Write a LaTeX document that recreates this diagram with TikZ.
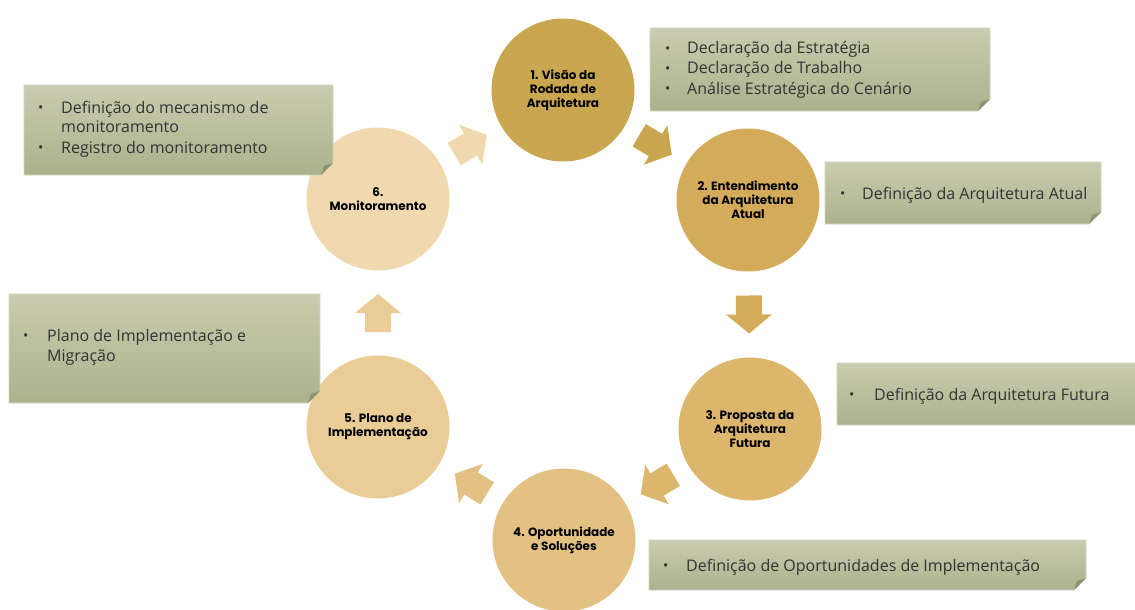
\documentclass[tikz,border=0pt]{standalone}
\usepackage{fontspec}
\setmainfont{Open Sans}
\newfontfamily\circfont{Poppins}
\usetikzlibrary{calc}

% circle fills, darkest (step 1) to lightest (step 6)
\definecolor{cA}{HTML}{C9A650}
\definecolor{cB}{HTML}{D4AB5B}
\definecolor{cC}{HTML}{DCB66C}
\definecolor{cD}{HTML}{E3C185}
\definecolor{cE}{HTML}{EACC96}
\definecolor{cF}{HTML}{F0D9AF}
% sticky notes
\definecolor{noteTop}{HTML}{C9CCAE}
\definecolor{noteBot}{HTML}{ABB18D}
\definecolor{noteEdge}{HTML}{D3D6BF}
\definecolor{noteFold}{HTML}{8E9371}
\definecolor{noteInk}{HTML}{333333}

\newcommand\bul{{\fontsize{14}{14}\selectfont\raisebox{0.5pt}{•}}}

% sticky note with a folded bottom-right corner: #1 top-left, #2 bottom-right
\newcommand\stickynote[2]{%
  \coordinate (snA) at (#1);
  \coordinate (snB) at (#2);
  \path[notebody] (snA) -- (snA -| snB) -- ($(snB)+(0,-12)$) -- ($(snB)+(-12,0)$)
    -- (snA |- snB) -- cycle;
  \fill[noteFold] ($(snB)+(0,-12)$) -- ($(snB)+(-12,0)$) -- ($(snB)+(-9,-9)$) -- cycle;
}

\begin{document}
\begin{tikzpicture}[x=1pt,y=-1pt,
  stage/.style={circle, minimum size=143pt, inner sep=0pt, align=center,
    font={\circfont\bfseries\fontsize{12}{14.2}\selectfont}, text=black},
  notebody/.style={top color=noteTop, bottom color=noteBot, draw=noteEdge, line width=0.8pt},
  notetext/.style={anchor=base west, inner sep=0pt, text=noteInk,
    font={\fontsize{16}{20}\selectfont}},
  blockarrow/.pic={\fill[#1] (-19,-13) -- (0,-13) -- (0,-23) -- (19,0) -- (0,23)
    -- (0,13) -- (-19,13) -- cycle;}]

\useasboundingbox (0,0) rectangle (1135,610);

% the six stages of the cycle
\node[stage, fill=cA] (s1) at (563,90)  {1. Visão da\\Rodada de\\Arquitetura};
\node[stage, fill=cB] (s2) at (748,200) {2. Entendimento\\da Arquitetura\\Atual};
\node[stage, fill=cC] (s3) at (750,429) {3. Proposta da\\Arquitetura\\Futura};
\node[stage, fill=cD] (s4) at (564,540) {4. Oportunidade\\e Soluções};
\node[stage, fill=cE] (s5) at (378,427) {5. Plano de\\Implementação};
\node[stage, fill=cF] (s6) at (378,199) {6.\\Monitoramento};

% block arrows half-way between consecutive stages
\foreach \a/\b/\col in {s1/s2/cA, s2/s3/cB, s3/s4/cC, s4/s5/cD, s5/s6/cE, s6/s1/cF}{
  \path let \p1=($(\b)-(\a)$), \n1={atan2(\y1,\x1)} in
    ($(\a)!0.5!(\b)$) pic[rotate=\n1] {blockarrow=\col};
}

% notes beside the stages
\stickynote{650,28}{990,111}
\node[notetext] (n1) at (665,54) {\begin{tabular}[t]{@{}p{22pt}@{}l@{}}
  \bul & Declaração da Estratégia\\
  \bul & Declaração de Trabalho\\
  \bul & Análise Estratégica do Cenário\end{tabular}};

\stickynote{825,162}{1101,224}
\node[notetext] (n2) at (840,199) {\begin{tabular}[t]{@{}p{22pt}@{}l@{}}
  \bul & Definição da Arquitetura Atual\end{tabular}};

\stickynote{837,363}{1150,425}
\node[notetext] (n3) at (849,400) {\begin{tabular}[t]{@{}p{25pt}@{}l@{}}
  \bul & Definição da Arquitetura Futura\end{tabular}};

\stickynote{649,540}{1086,590}
\node[notetext] (n4) at (663,571) {\begin{tabular}[t]{@{}p{23pt}@{}l@{}}
  \bul & Definição de Oportunidades de Implementação\end{tabular}};

\stickynote{24,85}{333,175}
\node[notetext] (n6) at (38,113) {\begin{tabular}[t]{@{}p{23pt}@{}l@{}}
  \bul & Definição do mecanismo de\\
       & monitoramento\\
  \bul & Registro do monitoramento\end{tabular}};

\stickynote{9,294}{320,403}
\node[notetext] (n5) at (23,341) {\begin{tabular}[t]{@{}p{24pt}@{}l@{}}
  \bul & Plano de Implementação e\\
       & Migração\end{tabular}};

\end{tikzpicture}
\end{document}
